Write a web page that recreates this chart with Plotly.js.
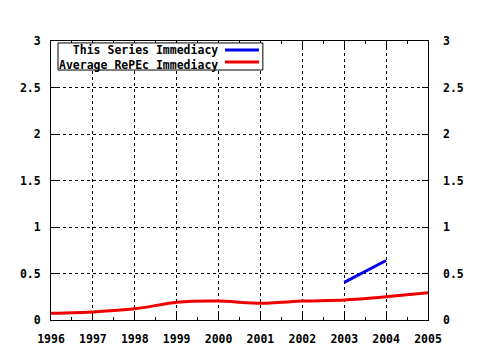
<!DOCTYPE html>
<html>
<head>
<meta charset="utf-8">
<script src="https://cdn.plot.ly/plotly-3.0.1.min.js"></script>
<style>html,body{margin:0;padding:0;background:#fff;}#chart{width:480px;height:350px;}</style>
</head>
<body>
<div id="chart"></div>
<script>
const years = [1996, 1997, 1998, 1999, 2000, 2001, 2002, 2003, 2004, 2005];
const averageRepec = [0.072, 0.087, 0.12, 0.19, 0.203, 0.18, 0.203, 0.215, 0.25, 0.293];
const seriesYears = [2003, 2004];
const seriesImmediacy = [0.405, 0.64];
const seriesNames = ['This Series Immediacy', 'Average RePEc Immediacy'];
const seriesColors = ['#0000ee', '#ee0000'];
const xTicks = [1996, 1997, 1998, 1999, 2000, 2001, 2002, 2003, 2004, 2005];
const yTicks = [0, 0.5, 1, 1.5, 2, 2.5, 3];
const yTickText = ['0', '0.5', '1', '1.5', '2', '2.5', '3'];

const FAM = "'DejaVu Sans Mono', 'Liberation Mono', monospace";
const tf = {family: FAM, size: 11.5, color: '#000', weight: 'bold'};

const traces = [
  {x: seriesYears, y: seriesImmediacy, name: seriesNames[0], mode: 'lines',
   line: {color: seriesColors[0], width: 3}, hoverinfo: 'skip'},
  {x: years, y: averageRepec, name: seriesNames[1], mode: 'lines',
   line: {color: seriesColors[1], width: 3, shape: 'spline', smoothing: 0.6}, hoverinfo: 'skip'},
  // carrier for right-hand axis (not drawn)
  {x: years, y: averageRepec, yaxis: 'y2', mode: 'lines', line: {width: 0, color: 'rgba(0,0,0,0)'},
   hoverinfo: 'skip', showlegend: false}
];

const axisCommon = {
  showline: true, linecolor: '#000', linewidth: 1,
  ticks: 'inside', ticklen: 6, tickcolor: '#000', tickwidth: 1,
  showgrid: true, gridcolor: '#000', griddash: 'dot', gridwidth: 1,
  zeroline: false, tickfont: tf
};

const layout = {
  width: 480, height: 350,
  margin: {l: 51, r: 52, t: 41, b: 30},
  paper_bgcolor: '#fff', plot_bgcolor: '#fff',
  showlegend: false,
  font: {family: FAM, size: 11.5, color: '#000'},
  xaxis: Object.assign({}, axisCommon, {
    range: [1996, 2005], tickvals: xTicks, ticktext: xTicks.map(String),
    mirror: 'ticks', ticklabelstandoff: 8,
    minor: {ticks: 'inside', ticklen: 3, dtick: 0.5, tickcolor: '#000', showgrid: false}
  }),
  yaxis: Object.assign({}, axisCommon, {
    range: [0, 3], tickvals: yTicks, ticktext: yTickText,
    mirror: 'ticks', ticklabelstandoff: 7
  }),
  yaxis2: {
    overlaying: 'y', side: 'right', range: [0, 3], tickvals: yTicks, ticktext: yTickText,
    showgrid: false, zeroline: false, showline: false, ticks: '', ticklabelstandoff: 14,
    tickfont: tf
  },
  shapes: [
    {type: 'rect', xref: 'paper', yref: 'paper', x0: 0.0186, x1: 0.562, y0: 0.896, y1: 0.993,
     line: {color: '#000', width: 1}, fillcolor: '#fff', layer: 'above'},
    {type: 'line', xref: 'paper', yref: 'paper', x0: 0.4615, x1: 0.5517, y0: 0.9677, y1: 0.9677,
     line: {color: seriesColors[0], width: 3}, layer: 'above'},
    {type: 'line', xref: 'paper', yref: 'paper', x0: 0.4615, x1: 0.5517, y0: 0.9247, y1: 0.9247,
     line: {color: seriesColors[1], width: 3}, layer: 'above'}
  ],
  annotations: [
    {xref: 'paper', yref: 'paper', x: 0.445, y: 0.942, xanchor: 'right', yanchor: 'middle',
     align: 'right', text: seriesNames.join('<br>'), showarrow: false, font: tf, borderpad: 0}
  ]
};

Plotly.newPlot('chart', traces, layout, {staticPlot: true, displayModeBar: false});
</script>
</body>
</html>
